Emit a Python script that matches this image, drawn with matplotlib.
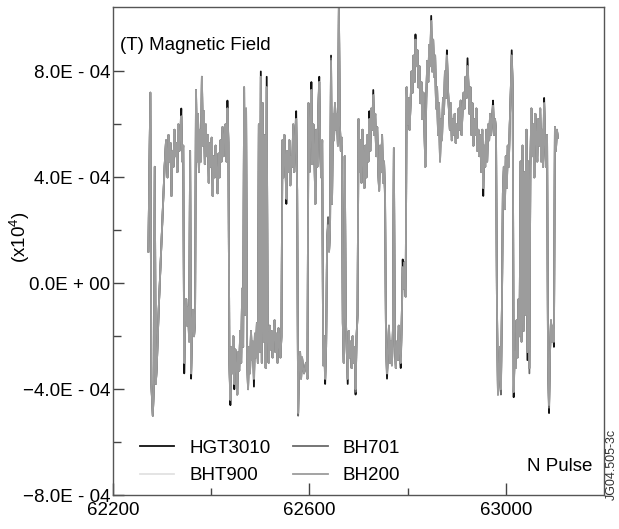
import matplotlib
matplotlib.use("Agg")
import matplotlib.pyplot as plt
from matplotlib.ticker import FixedLocator, FuncFormatter

plt.rcParams['font.family'] = ['Liberation Sans', 'DejaVu Sans']
plt.rcParams['mathtext.fontset'] = 'custom'
plt.rcParams['mathtext.rm'] = 'Liberation Sans'
plt.rcParams['mathtext.it'] = 'Liberation Sans'

# pulse number along the shot
pulse = [
    62272, 62276, 62278, 62281, 62283, 62285, 62287, 62289, 62293, 62297,
    62301, 62305, 62308, 62311, 62313, 62315, 62317, 62319, 62321, 62323,
    62325, 62327, 62329, 62331, 62333, 62335, 62337, 62339, 62341, 62343,
    62345, 62347, 62349, 62351, 62353, 62355, 62357, 62359, 62361, 62363,
    62365, 62367, 62369, 62371, 62373, 62375, 62377, 62379, 62381, 62383,
    62385, 62387, 62389, 62391, 62393, 62395, 62397, 62399, 62401, 62403,
    62405, 62407, 62409, 62411, 62413, 62415, 62417, 62419, 62421, 62423,
    62425, 62427, 62429, 62431, 62433, 62435, 62437, 62439, 62441, 62443,
    62445, 62447, 62449, 62451, 62453, 62455, 62457, 62459, 62461, 62463,
    62465, 62467, 62469, 62471, 62473, 62475, 62477, 62479, 62481, 62483,
    62485, 62487, 62489, 62491, 62493, 62495, 62497, 62499, 62501, 62503,
    62505, 62507, 62509, 62511, 62513, 62515, 62517, 62519, 62521, 62523,
    62525, 62527, 62529, 62531, 62533, 62535, 62537, 62539, 62541, 62543,
    62545, 62547, 62549, 62551, 62553, 62555, 62557, 62559, 62561, 62563,
    62565, 62567, 62569, 62571, 62573, 62575, 62577, 62579, 62581, 62583,
    62585, 62587, 62589, 62593, 62596, 62598, 62600, 62602, 62604, 62606,
    62608, 62610, 62612, 62614, 62616, 62618, 62620, 62622, 62624, 62626,
    62628, 62630, 62632, 62634, 62636, 62638, 62640, 62642, 62644, 62646,
    62648, 62650, 62652, 62654, 62656, 62658, 62660, 62662, 62664, 62666,
    62668, 62670, 62672, 62674, 62676, 62678, 62680, 62682, 62684, 62686,
    62688, 62690, 62692, 62694, 62696, 62698, 62700, 62702, 62704, 62706,
    62708, 62710, 62712, 62714, 62716, 62718, 62720, 62722, 62724, 62726,
    62728, 62730, 62732, 62734, 62736, 62738, 62740, 62742, 62744, 62746,
    62748, 62750, 62752, 62754, 62756, 62758, 62760, 62762, 62764, 62766,
    62768, 62770, 62772, 62774, 62776, 62778, 62780, 62782, 62784, 62786,
    62788, 62790, 62792, 62794, 62796, 62798, 62800, 62802, 62804, 62806,
    62808, 62810, 62812, 62814, 62816, 62818, 62820, 62822, 62824, 62826,
    62828, 62830, 62832, 62834, 62836, 62838, 62840, 62842, 62844, 62846,
    62848, 62850, 62852, 62854, 62856, 62858, 62860, 62862, 62864, 62866,
    62868, 62870, 62872, 62874, 62876, 62878, 62880, 62882, 62884, 62886,
    62888, 62890, 62892, 62894, 62896, 62898, 62900, 62902, 62904, 62906,
    62908, 62910, 62912, 62914, 62916, 62918, 62920, 62922, 62924, 62926,
    62928, 62930, 62932, 62934, 62936, 62938, 62940, 62942, 62944, 62946,
    62948, 62950, 62952, 62954, 62956, 62958, 62960, 62962, 62964, 62966,
    62968, 62970, 62972, 62974, 62976, 62978, 62980, 62982, 62984, 62986,
    62988, 62990, 62992, 62994, 62996, 62998, 63000, 63002, 63004, 63006,
    63008, 63010, 63012, 63014, 63016, 63018, 63020, 63022, 63024, 63026,
    63028, 63030, 63032, 63034, 63036, 63038, 63040, 63042, 63044, 63046,
    63048, 63050, 63052, 63054, 63056, 63058, 63060, 63062, 63064, 63066,
    63068, 63070, 63072, 63074, 63076, 63078, 63080, 63082, 63084, 63086,
    63088, 63090, 63092, 63094, 63096, 63098, 63100, 63102, 63104, 63106,
]

# BH200 field, in units of 1e-4 T
bh200 = [
    1.2, 7.2, -3.8, -5.0, -4.0, 4.4, -3.8, -3.2, -1.0, 0.8,
    2.6, 4.4, 5.4, 4.0, 5.6, 4.6, 5.3, 3.3, 5.0, 4.4,
    5.8, 4.8, 5.3, 4.2, 6.0, 5.0, 5.6, 6.3, 4.6, 5.2,
    -3.0, -1.2, -0.6, -1.6, -0.9, -2.2, 5.0, -3.4, -1.8, -1.0,
    -2.0, -1.5, 7.3, 4.6, 6.4, 4.2, 5.8, 4.6, 7.8, 5.2,
    6.5, 4.5, 6.0, 4.8, 5.6, 3.8, 5.3, 4.4, 5.5, 3.3,
    4.8, 4.0, 5.2, 4.2, 3.4, 4.9, 4.0, 5.4, 4.6, 5.9,
    4.8, 5.6, 6.0, 4.6, 6.6, 5.3, -3.0, -4.4, -2.4, -3.4,
    -2.0, -3.8, -2.5, -3.1, -4.2, -2.6, -3.3, -1.8, -3.0, -0.2,
    -2.4, 7.4, -1.2, 6.6, -2.8, -4.0, -2.4, -3.4, -1.8, -2.9,
    -2.2, -3.6, -1.9, -2.8, -1.5, -3.0, 6.0, -2.6, 7.8, -3.0,
    6.8, -2.2, 5.6, -3.2, 7.4, -2.0, -3.0, -1.6, -2.5, -1.8,
    -2.8, -2.0, -1.4, -2.6, -1.9, -3.0, -1.7, -2.3, -2.8, -2.0,
    5.4, 4.0, 5.6, 4.6, 3.2, 5.0, 4.2, 5.4, 3.7, 4.8,
    4.4, 6.0, 4.2, 5.5, 6.2, 3.5, -4.9, -3.0, -2.6, -3.6,
    -2.8, -3.2, -3.4, -3.0, -3.6, 6.8, 4.2, 5.6, 7.3, 4.5,
    6.0, 5.0, 3.0, 5.8, 4.4, 6.5, 7.6, 5.0, 4.0, 5.4,
    -3.1, -2.0, -3.6, -2.4, 1.6, 2.2, 1.2, 2.0, 8.4, 3.0,
    6.4, 5.4, 6.8, 5.8, 6.4, 5.2, 10.5, 6.0, 5.0, 5.5,
    -1.5, -3.0, 4.8, -1.2, -2.5, -3.6, -1.8, -2.8, -2.2, -3.2,
    -2.0, -3.0, -2.4, -4.0, -2.0, -1.2, 6.2, 4.2, 5.4, 3.8,
    5.8, 4.6, 3.6, 5.2, 4.0, 5.6, 4.6, 6.2, 5.0, 6.6,
    5.8, 7.1, 5.6, 6.4, 4.8, 5.9, 4.3, 3.5, 5.2, 4.2,
    5.6, 3.8, 4.6, 3.4, -2.2, -3.4, -2.6, -1.6, -3.0, -2.2,
    -3.1, -1.8, 5.1, -2.4, -3.2, -2.2, -2.9, -1.6, -2.6, -3.0,
    -1.4, 0.6, -0.2, 0.8, -0.5, 7.4, 6.0, 7.0, 5.8, 6.8,
    8.0, 7.2, 8.6, 7.6, 9.2, 8.2, 8.8, 7.4, 8.2, 6.8,
    7.6, 6.2, 7.2, 6.0, 4.4, 7.0, 8.4, 7.6, 9.0, 8.2,
    9.9, 8.0, 9.2, 7.8, 8.6, 6.6, 7.4, 5.6, 6.8, 4.6,
    6.2, 5.4, 7.0, 6.4, 8.0, 7.0, 8.6, 7.4, 6.6, 5.8,
    6.8, 5.4, 6.2, 5.6, 6.4, 5.3, 6.0, 5.5, 6.6, 5.8,
    6.9, 5.6, 6.6, 7.2, 6.6, 7.8, 7.0, 8.2, 7.4, 6.4,
    7.4, 5.6, 6.8, 5.2, 6.2, 5.6, 6.6, 5.0, 5.8, 4.8,
    5.6, 4.2, 5.8, 3.6, 5.2, 4.4, 5.8, 4.6, 6.0, 5.4,
    6.4, 5.6, 6.2, 6.7, 5.6, 6.2, 5.8, -1.0, -4.2, -3.6,
    -2.4, -4.0, -1.0, 3.4, 4.4, 2.8, 4.8, 3.6, 5.2, 4.4,
    6.0, 7.2, 8.6, 7.4, -4.1, -2.6, -3.2, -1.4, -2.8, -0.6,
    -2.0, 4.6, -2.2, 5.2, -1.8, 4.2, -1.2, 5.8, -2.6, 4.6,
    -3.2, 4.4, 6.6, 4.8, 6.0, 4.0, 6.4, 5.6, 4.6, 6.2,
    5.2, 6.6, 4.6, 5.8, 4.4, 6.8, 5.4, 4.4, 5.6, -3.0,
    -4.6, -2.6, -1.4, -2.2, -1.6, -2.2, 5.9, 5.0, 5.8, 5.5,
]

# readings where the black HGT3010 trace shows beyond the grey ones
hgt3010_pulse = [62339, 62345, 62359, 62433, 62439, 62447, 62487, 62501, 62513, 62553,
                 62573, 62604, 62620, 62632, 62644, 62678, 62694, 62722, 62730, 62754,
                 62758, 62786, 62790, 62816, 62848, 62880, 62922, 62954, 62974, 63012,
                 63016, 63044, 63078, 63088, 63098]
hgt3010_val = [6.6, -3.4, -3.6, 6.9, -4.6, -4.0, -3.9, 8.0, 7.8, 3.0,
               6.5, 7.6, 7.8, -3.8, 8.6, -3.8, -4.2, 6.5, 7.3, 3.2,
               -3.6, -3.2, 0.9, 9.4, 10.1, 8.8, 8.5, 3.3, 6.9, 8.8,
               -4.3, -2.9, 7.0, -4.9, -2.4]

# readings where the dark grey BH701 trace shows
bh701_pulse = [62577, 62638, 62644, 62694, 62990, 63048, 63088]
bh701_val = [-5.0, 2.5, 8.5, -4.1, -4.2, -3.4, -4.7]

# BHT900 is hidden under the others everywhere
series_names = ['HGT3010', 'BHT900', 'BH701', 'BH200']
series_colors = ['#111111', '#e2e2e2', '#6a6a6a', '#9c9c9c']


def trace(base, fix_pulse, fix_val):
    vals = list(base)
    for p, v in zip(fix_pulse, fix_val):
        vals[pulse.index(p)] = v
    return [v * 1e-4 for v in vals]


hgt3010 = trace(bh200, hgt3010_pulse, hgt3010_val)
bht900 = trace(bh200, [], [])
bh701 = trace(bh200, bh701_pulse, bh701_val)
bh200_t = trace(bh200, [], [])

fig = plt.figure(figsize=(6.19, 5.29), dpi=100)
ax = fig.add_axes([0.1826, 0.064, 0.7932, 0.9225])

for data, name, col in zip([hgt3010, bht900, bh701, bh200_t], series_names, series_colors):
    ax.plot(pulse, data, color=col, lw=1.3, label=name)

ax.set_xlim(62200, 63200)
ax.set_ylim(-8e-4, 1.043e-3)

ax.xaxis.set_major_locator(FixedLocator([62200, 62600, 63000]))
ax.xaxis.set_minor_locator(FixedLocator([62400, 62800]))
ax.yaxis.set_major_locator(FixedLocator([-8e-4, -4e-4, 0, 4e-4, 8e-4]))
ax.yaxis.set_minor_locator(FixedLocator([-6e-4, -2e-4, 2e-4, 6e-4]))


def yfmt(v, pos):
    m = round(v * 1e4, 1)
    if m == 0:
        return '0.0E + 00'
    sign = '\u2212' if m < 0 else ''
    return f'{sign}{abs(m):.1f}E - 04'


ax.yaxis.set_major_formatter(FuncFormatter(yfmt))
ax.tick_params(which='major', direction='in', length=8, width=1, labelsize=13.5, pad=2, color='#444444')
ax.tick_params(which='minor', direction='in', length=6, width=1, color='#444444')
ax.tick_params(axis='x', which='major', length=8.5, pad=5)
ax.tick_params(axis='x', which='minor', length=5)
for s in ax.spines.values():
    s.set_color('#555555')
    s.set_linewidth(1.0)

ax.text(0.014, 0.922, '(T) Magnetic Field', transform=ax.transAxes, fontsize=13.5, va='center', ha='left')
ax.text(0.976, 0.058, 'N Pulse', transform=ax.transAxes, fontsize=13.5, va='center', ha='right')
fig.text(20 / 619, 1 - 237 / 529, '(x10$^4$)', rotation=90, fontsize=13.5, va='center', ha='center')
fig.text(612 / 619, 1 - 464 / 529, 'JG04.505-3c', rotation=90, fontsize=9, va='center', ha='center', color='#333333')

ax.legend(ncol=2, loc='lower left', bbox_to_anchor=(0.02, -0.012), frameon=False, fontsize=13.5,
          handlelength=1.85, handletextpad=0.8, columnspacing=1.2, labelspacing=0.55, borderpad=0.4)

fig.savefig('out.png', dpi=100)
